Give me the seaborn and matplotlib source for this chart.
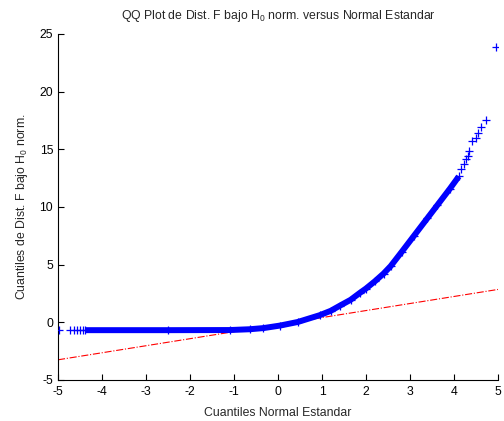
import matplotlib
matplotlib.use("Agg")
import matplotlib.pyplot as plt
import seaborn as sns
import pandas as pd

# ---- data ----
# dense part of the QQ curve (theoretical normal quantile, sample quantile)
dense_x = [-4.38, -2.5, -1.1, -0.64, -0.33, 0.05, 0.45, 0.95, 1.2, 1.41,
           1.65, 1.86, 2.0, 2.2, 2.4, 2.56, 2.81, 3.08, 3.39, 3.62, 3.91, 4.11]
dense_y = [-0.68, -0.68, -0.67, -0.60, -0.50, -0.28, 0.03, 0.62, 1.0, 1.45,
           1.95, 2.55, 2.93, 3.55, 4.23, 4.87, 6.1, 7.45, 9.0, 10.15, 11.6, 12.65]
# isolated points in the tails
left_x = [-4.97, -4.73, -4.64, -4.56, -4.50, -4.44]
left_y = [-0.70, -0.70, -0.70, -0.70, -0.70, -0.70]
tail_x = [4.17, 4.22, 4.27, 4.31, 4.35, 4.42, 4.49, 4.54, 4.61, 4.72, 4.95]
tail_y = [13.3, 13.7, 14.16, 14.4, 14.88, 15.74, 15.95, 16.37, 16.9, 17.56, 23.9]
# reference line (through quartiles, extended)
ref_x = [-5, 5]
ref_y = [-3.25, 2.85]

x_ticks = [-5, -4, -3, -2, -1, 0, 1, 2, 3, 4, 5]
y_ticks = [-5, 0, 5, 10, 15, 20, 25]

sns.set_style("ticks")
plt.rcParams['font.family'] = ['Liberation Sans', 'DejaVu Sans']
plt.rcParams['mathtext.default'] = 'regular'

FS = 8.8

fig = plt.figure(figsize=(5.04, 4.21), dpi=100)
ax = fig.add_axes([0.1151, 0.0974, 0.873, 0.822])

sns.lineplot(x=ref_x, y=ref_y, ax=ax, color=(1, 0, 0), lw=0.8,
             linestyle='-.', zorder=1)
sns.lineplot(x=dense_x, y=dense_y, ax=ax, color=(0, 0, 1), lw=4.3,
             sort=False, zorder=2, solid_capstyle='butt',
             solid_joinstyle='round')
pts = pd.DataFrame({'x': left_x + dense_x + tail_x,
                    'y': left_y + dense_y + tail_y})
sns.scatterplot(data=pts, x='x', y='y', ax=ax, marker='+', s=28,
                linewidth=0.9, color=(0, 0, 1), zorder=3)

ax.set_xlim(-5, 5)
ax.set_ylim(-5, 25)
ax.set_xticks(x_ticks)
ax.set_yticks(y_ticks)
ax.set_xticklabels([str(t) for t in x_ticks])
ax.set_yticklabels([str(t) for t in y_ticks])
ax.tick_params(direction='in', length=4, width=0.8, labelsize=FS, colors='black')
ax.tick_params(axis='x', pad=4.5)
ax.tick_params(axis='y', pad=3.5)
for s in ['top', 'right']:
    ax.spines[s].set_visible(False)
for s in ['left', 'bottom']:
    ax.spines[s].set_linewidth(0.8)
    ax.spines[s].set_color('black')

ax.set_title('QQ Plot de Dist. F bajo H$_0$ norm. versus Normal Estandar',
             fontsize=FS, pad=10.5)
ax.set_xlabel('Cuantiles Normal Estandar', fontsize=FS, labelpad=6.5)
ax.set_ylabel('Cuantiles de Dist. F bajo H$_0$ norm.', fontsize=FS, labelpad=6.5)

fig.savefig('out.png', dpi=100)
